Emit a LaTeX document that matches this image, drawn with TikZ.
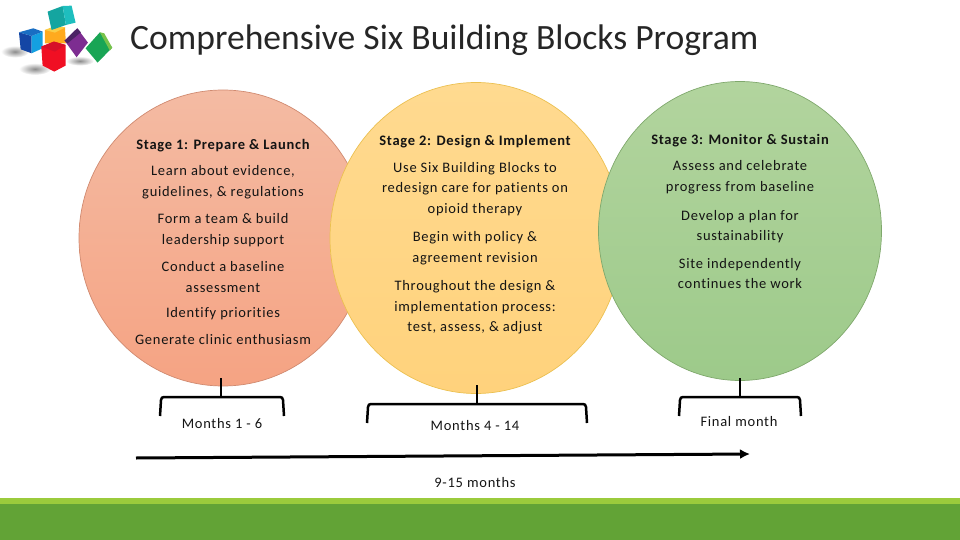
\documentclass[tikz,border=0pt]{standalone}
\usepackage{fontspec}
\setmainfont[LetterSpace=5,RawFeature=-liga]{Carlito}
\newfontfamily\titlefont[RawFeature=-liga]{Carlito}
\usetikzlibrary{arrows.meta,shapes.geometric}

\definecolor{barlight}{HTML}{9BCB3C}
\definecolor{bardark}{HTML}{62A336}
\definecolor{inktext}{HTML}{141414}
\definecolor{redtop}{HTML}{F4BBA3}
\definecolor{redbottom}{HTML}{F5A383}
\definecolor{rededge}{HTML}{D08A70}
\definecolor{yellowtop}{HTML}{FFDA90}
\definecolor{yellowbottom}{HTML}{FFD27C}
\definecolor{yellowedge}{HTML}{EBC050}
\definecolor{greentop}{HTML}{B2D49E}
\definecolor{greenbottom}{HTML}{9DCA8A}
\definecolor{greenedge}{HTML}{7FA86C}
% logo colours
\definecolor{cubeorange}{HTML}{FFAA1E}
\definecolor{cubeamber}{HTML}{FACD46}
\definecolor{cubenavy}{HTML}{1446A5}
\definecolor{cubesky}{HTML}{14A0E1}
\definecolor{cubeblue}{HTML}{196EC3}
\definecolor{cubeteal}{HTML}{14A5A0}
\definecolor{cubecyan}{HTML}{1EBEBE}
\definecolor{cubered}{HTML}{F00F23}
\definecolor{cubecrimson}{HTML}{D70F28}
\definecolor{cubeviolet}{HTML}{7D2D91}
\definecolor{cubeplum}{HTML}{4B2364}
\definecolor{cubegreen}{HTML}{19A555}
\definecolor{cubelime}{HTML}{78C34B}

\tikzset{
  stagecircle/.style={ellipse, line width=0.7pt, inner sep=0pt},
  blurb/.style={align=center, text=inktext, font=\fontsize{14.5}{20.7}\selectfont, inner sep=0pt},
  heading/.style={blurb, font=\fontsize{14.5}{20.7}\selectfont\bfseries},
  cube/.style={line join=round},
  shadow/.style={inner color=black!45, outer color=white}
}

\begin{document}
\begin{tikzpicture}[x=1pt, y=-1pt]
  \useasboundingbox (0,0) rectangle (960,540);

  % footer
  \fill [barlight] (0,498) rectangle (960,504);
  \fill [bardark] (0,504) rectangle (960,540);

  % logo, in the units of a 3x crop
  \begin{scope}[x=0.333pt, y=-0.333pt]
    \shade [shadow] (45,155) ellipse [x radius=42, y radius=18];
    \shade [shadow] (105,207) ellipse [x radius=48, y radius=18];
    \shade [shadow] (240,183) ellipse [x radius=42, y radius=14];
    \fill [cube, cubeorange] (135,90) -- (195,82) -- (198,130) -- (135,130) -- cycle;
    \fill [cube, cubeamber] (135,90) -- (165,78) -- (197,82) -- (165,98) -- cycle;
    \fill [cube, cubenavy] (57,97) -- (95,108) -- (95,160) -- (62,148) -- cycle;
    \fill [cube, cubesky] (95,108) -- (128,95) -- (128,145) -- (95,160) -- cycle;
    \fill [cube, cubeblue] (57,97) -- (100,85) -- (128,95) -- (95,108) -- cycle;
    \fill [cube, cubeteal] (143,35) -- (188,18) -- (198,75) -- (155,90) -- cycle;
    \fill [cube, cubecyan] (188,18) -- (215,17) -- (227,68) -- (198,75) -- cycle;
    \fill [cube, cubered] (124,140) -- (162,125) -- (197,135) -- (197,197) -- (163,215) -- (128,197) -- cycle;
    \fill [cube, cubecrimson] (124,140) -- (162,125) -- (197,135) -- (165,155) -- cycle;
    \fill [cube, cubeviolet] (194,122) -- (232,85) -- (264,128) -- (230,172) -- cycle;
    \fill [cube, cubeplum] (194,122) -- (232,85) -- (243,97) -- (203,130) -- cycle;
    \fill [cube, cubegreen] (257,145) -- (300,97) -- (337,143) -- (293,188) -- cycle;
    \fill [cube, cubelime] (300,97) -- (313,100) -- (337,143) -- (330,152) -- cycle;
  \end{scope}

  % title
  \node (title) [anchor=base west, inner sep=0pt, text=black!85, font=\titlefont\fontsize{35.6}{38}\selectfont] at (130,50)
    {Comprehensive Six Building Blocks Program};

  % circles
  \node (redcircle) [stagecircle, draw=rededge, minimum width=288pt, minimum height=296pt,
    top color=redtop, bottom color=redbottom] at (223,238) {};
  \node (yellowcircle) [stagecircle, draw=yellowedge, minimum width=292pt, minimum height=311pt,
    top color=yellowtop, bottom color=yellowbottom] at (476,238) {};
  \node (greencircle) [stagecircle, draw=greenedge, minimum width=283pt, minimum height=299pt,
    top color=greentop, bottom color=greenbottom] at (740,231) {};

  % stage 1
  \node (stageone) [heading] at (223,146) {Stage 1: Prepare \& Launch};
  \node (learn) [blurb] at (223,182.5) {Learn about evidence,\\guidelines, \& regulations};
  \node (form) [blurb] at (223,230) {Form a team \& build\\leadership support};
  \node (conduct) [blurb] at (223,277) {Conduct a baseline\\assessment};
  \node (identify) [blurb] at (223,314) {Identify priorities};
  \node (generate) [blurb] at (223,340) {Generate clinic enthusiasm};

  % stage 2
  \node (stagetwo) [heading] at (475,142) {Stage 2: Design \& Implement};
  \node (redesign) [blurb] at (475,189) {Use Six Building Blocks to\\redesign care for patients on\\opioid therapy};
  \node (policy) [blurb] at (475,248.5) {Begin with policy \&\\agreement revision};
  \node (throughout) [blurb] at (475,307.5) {Throughout the design \&\\implementation process:\\test, assess, \& adjust};

  % stage 3
  \node (stagethree) [heading] at (740,141) {Stage 3: Monitor \& Sustain};
  \node (celebrate) [blurb] at (740,177.5) {Assess and celebrate\\progress from baseline};
  \node (plan) [blurb] at (740,226.5) {Develop a plan for\\sustainability};
  \node (site) [blurb, font=\fontsize{14.5}{19.5}\selectfont] at (740,273.5) {Site independently\\continues the work};

  % brackets
  \foreach \name/\c/\l/\r/\top/\tip in {a/221/160/284/397/378, b/477/367/587/404/385, c/740/679/801/397/378}
    {
      \coordinate (\name stem) at (\c,\tip);
      \coordinate (\name mid) at (\c,\top);
      \coordinate (\name left) at (\l,\top+19);
      \coordinate (\name right) at (\r,\top+19);
      \draw [line width=2.5pt] (\name stem) -- (\name mid);
      \draw [line width=2.5pt] (\name left) -- (\l+1,\top+3) .. controls (\l+1.5,\top+1) and (\l+2,\top) .. (\l+4,\top)
        -- (\name mid) -- (\r-4,\top) .. controls (\r-2,\top) and (\r-1.5,\top+1) .. (\r-1,\top+3) -- (\name right);
    }

  \node (monthsa) [blurb] at (222,424) {Months 1 - 6};
  \node (monthsb) [blurb] at (475,426) {Months 4 - 14};
  \node (monthsc) [blurb] at (739,422) {Final month};

  % time line
  \coordinate (linestart) at (136,458);
  \coordinate (lineend) at (750,454);
  \draw [-{Latex[length=10pt, width=10pt]}, line width=3pt] (linestart) -- (lineend);
  \node (total) [blurb] at (475,483) {9-15 months};
\end{tikzpicture}
\end{document}
